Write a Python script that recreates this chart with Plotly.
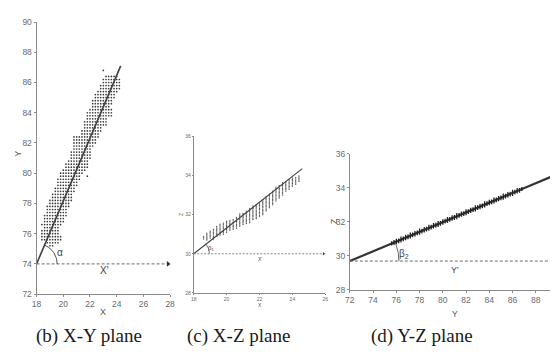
import numpy as np
import plotly.graph_objects as go

W, H = 558, 354

# ---------------- data ----------------
# (b) X-Y plane: rows of grid points, each row y with its left/right x extent
xy_row_y = [75.2, 75.4, 75.6, 75.8, 76.0, 76.2, 76.4, 76.6, 76.8, 77.0,
            77.2, 77.4, 77.6, 77.8, 78.0, 78.2, 78.4, 78.6, 78.8, 79.0,
            79.2, 79.4, 79.6, 79.8, 80.0, 80.2, 80.4, 80.6, 80.8, 81.0,
            81.2, 81.4, 81.6, 81.8, 82.0, 82.2, 82.4, 82.6, 82.8, 83.0,
            83.2, 83.4, 83.6, 83.8, 84.0, 84.2, 84.4, 84.6, 84.8, 85.0,
            85.2, 85.4, 85.6, 85.8, 86.0, 86.2, 86.4]
xy_row_xl = [19.0, 18.8, 18.4, 18.4, 18.4, 18.4, 18.6, 18.4, 18.6, 18.6,
             18.6, 18.8, 18.8, 18.8, 19.0, 19.0, 19.2, 19.2, 19.4, 19.4,
             19.6, 19.6, 19.6, 19.8, 19.8, 20.0, 20.2, 20.2, 20.4, 20.6,
             20.6, 20.6, 20.8, 20.8, 20.8, 20.8, 20.8, 21.4, 21.4, 21.6,
             21.6, 21.6, 21.8, 21.8, 21.8, 22.0, 22.2, 22.2, 22.2, 22.4,
             22.4, 22.6, 22.8, 22.8, 23.0, 23.0, 23.2]
xy_row_xr = [19.2, 19.6, 19.8, 19.8, 19.6, 19.6, 19.6, 19.8, 20.0, 20.0,
             20.2, 20.2, 20.2, 20.4, 20.4, 20.6, 20.6, 20.6, 20.8, 20.8,
             21.0, 21.0, 21.2, 21.2, 21.4, 21.6, 21.8, 21.8, 21.8, 22.0,
             22.0, 22.0, 22.0, 22.2, 22.4, 22.4, 22.6, 22.6, 22.8, 22.8,
             23.2, 23.2, 23.2, 23.6, 23.6, 23.6, 23.4, 23.6, 23.6, 23.8,
             23.8, 24.0, 24.2, 24.2, 24.2, 24.2, 24.0]
xy_stray_x = [21.8, 23.0]
xy_stray_y = [79.8, 86.8]
xy_fit_x = [18.0, 24.3]
xy_fit_y = [74.0, 87.1]

# (c) X-Z plane: columns of points at x with z extent lo..hi
xz_col_x = [18.6, 18.8, 19.0, 19.2, 19.4, 19.6, 19.8, 20.0, 20.2, 20.4,
            20.6, 20.8, 21.0, 21.2, 21.4, 21.6, 21.8, 22.0, 22.2, 22.4,
            22.6, 22.8, 23.0, 23.2, 23.4, 23.6, 23.8, 24.0, 24.2, 24.4]
xz_col_hi = [30.95, 31.05, 31.15, 31.25, 31.45, 31.55, 31.6, 31.7, 31.75, 31.8,
             31.9, 32.05, 32.1, 32.2, 32.35, 32.45, 32.55, 32.65, 32.8, 32.95,
             33.1, 33.25, 33.4, 33.5, 33.65, 33.75, 33.85, 33.9, 33.95, 34.0]
xz_col_lo = [30.75, 30.7, 30.8, 30.75, 30.9, 30.95, 31.0, 31.1, 31.2, 31.25,
             31.3, 31.4, 31.5, 31.55, 31.6, 31.75, 31.8, 31.9, 32.0, 32.2,
             32.35, 32.5, 32.7, 32.85, 33.0, 33.2, 33.3, 33.45, 33.55, 33.7]
xz_fit_x = [18.0, 24.6]
xz_fit_z = [30.0, 34.35]

# (d) Y-Z plane: short vertical ticks at y, centred at z with half-spread
yz_y = [75.6, 75.8, 76.0, 76.2, 76.4, 76.6, 76.8, 77.0, 77.2, 77.4,
        77.6, 77.8, 78.0, 78.2, 78.4, 78.6, 78.8, 79.0, 79.2, 79.4,
        79.6, 79.8, 80.0, 80.2, 80.4, 80.6, 80.8, 81.0, 81.2, 81.4,
        81.6, 81.8, 82.0, 82.2, 82.4, 82.6, 82.8, 83.0, 83.2, 83.4,
        83.6, 83.8, 84.0, 84.2, 84.4, 84.6, 84.8, 85.0, 85.2, 85.4,
        85.6, 85.8, 86.0, 86.2, 86.4, 86.6, 86.8]
yz_z = [30.74, 30.79, 30.85, 30.89, 30.97, 31.01, 31.08, 31.12, 31.20, 31.24,
        31.31, 31.35, 31.43, 31.46, 31.54, 31.58, 31.66, 31.69, 31.77, 31.81,
        31.88, 31.92, 32.00, 32.04, 32.11, 32.15, 32.23, 32.26, 32.34, 32.38,
        32.46, 32.49, 32.57, 32.61, 32.68, 32.72, 32.80, 32.84, 32.91, 32.95,
        33.03, 33.07, 33.14, 33.18, 33.26, 33.29, 33.37, 33.41, 33.49, 33.52,
        33.60, 33.64, 33.71, 33.75, 33.83, 33.86, 33.94]
yz_spread = [0.12, 0.14, 0.16, 0.14, 0.18, 0.14, 0.16, 0.14, 0.18, 0.14,
             0.16, 0.14, 0.18, 0.14, 0.16, 0.14, 0.18, 0.14, 0.16, 0.14,
             0.18, 0.14, 0.16, 0.14, 0.18, 0.14, 0.16, 0.14, 0.18, 0.14,
             0.16, 0.14, 0.18, 0.14, 0.16, 0.14, 0.18, 0.14, 0.16, 0.14,
             0.18, 0.14, 0.16, 0.14, 0.18, 0.14, 0.16, 0.14, 0.18, 0.14,
             0.16, 0.14, 0.18, 0.14, 0.16, 0.14, 0.12]
yz_fit_y = [72.0, 89.3]
yz_fit_z = [29.7, 34.65]

captions = ["(b) X-Y plane", "(c) X-Z plane", "(d) Y-Z plane"]

# ---------------- layout geometry (pixels) ----------------
def xd(px0, px1):
    return [px0 / W, px1 / W]

def yd(top, bottom):
    return [1 - bottom / H, 1 - top / H]

panels = {
    "b": dict(x=xd(24, 160), y=yd(9.3, 289.3), xr=[18, 28], yr=[72, 90], xdt=2, ydt=2),
    "c": dict(x=xd(184, 318), y=yd(127, 288), xr=[18, 26], yr=[28, 36], xdt=2, ydt=2),
    "d": dict(x=xd(343, 556), y=yd(145, 285), xr=[72, 90], yr=[28, 36], xdt=2, ydt=2),
}

def scale(p):
    sx = (p["x"][1] - p["x"][0]) * W / (p["xr"][1] - p["xr"][0])
    sy = (p["y"][1] - p["y"][0]) * H / (p["yr"][1] - p["yr"][0])
    return sx, sy

def arc(p, x0, y0, x1, y1, r_px, n=30):
    sx, sy = scale(p)
    th = np.arctan2((y1 - y0) * sy, (x1 - x0) * sx)
    t = np.linspace(0, th, n)
    return x0 + r_px * np.cos(t) / sx, y0 + r_px * np.sin(t) / sy

fig = go.Figure()
DOT = "#3a3a3a"
LINE = "#404040"
DASH = "#6a6a6a"

# ---- panel b ----
bx, by = [], []
for yv, xl, xr in zip(xy_row_y, xy_row_xl, xy_row_xr):
    for xv in np.arange(xl, xr + 1e-6, 0.2):
        bx.append(xv)
        by.append(yv)
bx += xy_stray_x
by += xy_stray_y
fig.add_trace(go.Scatter(x=bx, y=by, mode="markers", xaxis="x", yaxis="y",
                         marker=dict(size=1.7, color=DOT), hoverinfo="skip"))
fig.add_trace(go.Scatter(x=xy_fit_x, y=xy_fit_y, mode="lines", xaxis="x", yaxis="y",
                         line=dict(color=LINE, width=1.6)))
fig.add_trace(go.Scatter(x=[18, 27.85], y=[74, 74], mode="lines", xaxis="x", yaxis="y",
                         line=dict(color=DASH, width=1, dash="3px,2px")))
fig.add_trace(go.Scatter(x=[27.85], y=[74], mode="markers", xaxis="x", yaxis="y",
                         marker=dict(symbol="triangle-right", size=5, color="#333")))
ax_, ay_ = arc(panels["b"], 18, 74, xy_fit_x[1], xy_fit_y[1], 21)
fig.add_trace(go.Scatter(x=ax_, y=ay_, mode="lines", xaxis="x", yaxis="y",
                         line=dict(color=LINE, width=0.9)))

# ---- panel c ----
cx, cz = [], []
for xv, lo, hi in zip(xz_col_x, xz_col_lo, xz_col_hi):
    for zv in np.arange(lo, hi + 1e-6, 0.07):
        cx.append(xv)
        cz.append(zv)
fig.add_trace(go.Scatter(x=cx, y=cz, mode="markers", xaxis="x2", yaxis="y2",
                         marker=dict(size=1.4, color="#555"), hoverinfo="skip"))
fig.add_trace(go.Scatter(x=xz_fit_x, y=xz_fit_z, mode="lines", xaxis="x2", yaxis="y2",
                         line=dict(color=LINE, width=1.1)))
fig.add_trace(go.Scatter(x=[18, 25.9], y=[30, 30], mode="lines", xaxis="x2", yaxis="y2",
                         line=dict(color=DASH, width=0.8, dash="2px,1.5px")))
fig.add_trace(go.Scatter(x=[25.9], y=[30], mode="markers", xaxis="x2", yaxis="y2",
                         marker=dict(symbol="triangle-right", size=3, color="#444")))
cx_, cy_ = arc(panels["c"], 18, 30, xz_fit_x[1], xz_fit_z[1], 16)
fig.add_trace(go.Scatter(x=cx_, y=cy_, mode="lines", xaxis="x2", yaxis="y2",
                         line=dict(color=LINE, width=0.7)))

# ---- panel d ----
fig.add_trace(go.Scatter(x=yz_fit_y, y=yz_fit_z, mode="lines", xaxis="x3", yaxis="y3",
                         line=dict(color="#333", width=2.2)))
fig.add_trace(go.Scatter(x=yz_y, y=yz_z, mode="markers", xaxis="x3", yaxis="y3",
                         marker=dict(size=1, color="#222"),
                         error_y=dict(type="data", array=yz_spread, width=0,
                                      thickness=1.3, color="#222"),
                         hoverinfo="skip"))
fig.add_trace(go.Scatter(x=[72, 89.4], y=[29.7, 29.7], mode="lines", xaxis="x3", yaxis="y3",
                         line=dict(color=DASH, width=1, dash="3px,2px")))
fig.add_trace(go.Scatter(x=[89.4], y=[29.7], mode="markers", xaxis="x3", yaxis="y3",
                         marker=dict(symbol="triangle-right", size=4, color="#333")))
dx_, dy_ = arc(panels["d"], 72, 29.7, yz_fit_y[1], yz_fit_z[1], 50)
fig.add_trace(go.Scatter(x=dx_, y=dy_, mode="lines", xaxis="x3", yaxis="y3",
                         line=dict(color=LINE, width=0.8)))

# ---------------- axes ----------------
NARROW = "Liberation Sans Narrow, Arial Narrow, Liberation Sans, sans-serif"
tick_sizes = {"b": 8.5, "c": 5, "d": 8.5}
names = {"b": ("xaxis", "yaxis", "y", "x"), "c": ("xaxis2", "yaxis2", "y2", "x2"),
         "d": ("xaxis3", "yaxis3", "y3", "x3")}
layout = {}
for k, p in panels.items():
    xa, ya, anc_y, anc_x = names[k]
    common = dict(showgrid=False, zeroline=False, showline=True, linecolor="#8a8a8a",
                  linewidth=1, ticks="outside", ticklen=2 if k != "c" else 1,
                  tickcolor="#8a8a8a", tickwidth=1,
                  tickfont=dict(family=NARROW, size=tick_sizes[k], color="#6a6a6a"))
    layout[xa] = dict(domain=p["x"], range=p["xr"], dtick=p["xdt"], anchor=anc_y,
                      tick0=p["xr"][0], **common)
    layout[ya] = dict(domain=p["y"], range=p["yr"], dtick=p["ydt"], anchor=anc_x,
                      tick0=p["yr"][0], **common)

ann = []
def txt(x, y, s, size, xref="paper", yref="paper", angle=0, color="#555", family=NARROW):
    ann.append(dict(x=x, y=y, xref=xref, yref=yref, text=s, showarrow=False,
                    textangle=angle, font=dict(family=family, size=size, color=color),
                    xanchor="center", yanchor="middle"))

# axis titles
txt(92 / W, 1 - 307.5 / H, "X", 9)
txt(5 / W, 1 - 145 / H, "Y", 9, angle=-90)
txt(251 / W, 1 - 300 / H, "X", 5)
txt(171 / W, 1 - 207 / H, "Z", 5, angle=-90)
txt(450 / W, 1 - 310 / H, "Y", 8.5)
txt(327 / W, 1 - 215 / H, "Z", 8.5, angle=-90)

# in-plot labels
txt(23.05, 73.55, "X'", 10, "x", "y", color="#444")
txt(19.75, 74.75, "α", 10, "x", "y", color="#444")
txt(22.05, 29.75, "X'", 5, "x2", "y2", color="#444")
txt(19.05, 30.25, "β<sub>1</sub>", 6, "x2", "y2", color="#444")
txt(81.05, 29.15, "Y'", 9, "x3", "y3", color="#444")
txt(76.7, 30.1, "β<sub>2</sub>", 10, "x3", "y3", color="#444")

# captions
for cxp, s in zip([77, 230, 416], captions):
    txt(cxp / W, 1 - 332 / H, s, 19, color="#1a1a1a", family="Liberation Serif, Times New Roman, serif")

fig.update_layout(width=W, height=H, margin=dict(l=0, r=0, t=0, b=0),
                  paper_bgcolor="white", plot_bgcolor="white", showlegend=False,
                  annotations=ann, **layout)

fig.write_html("out.html")
